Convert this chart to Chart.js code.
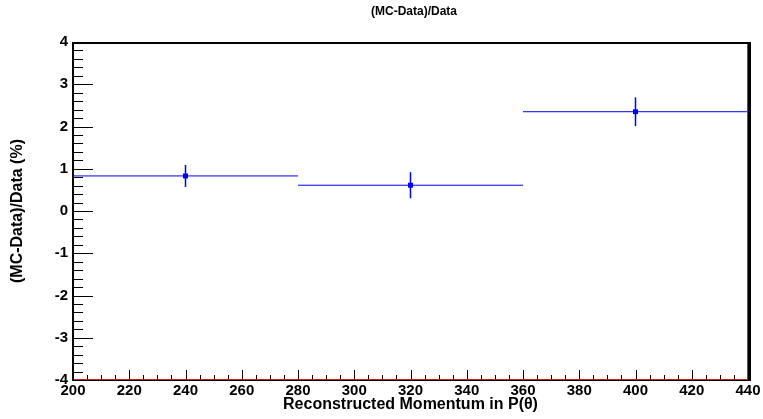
<!DOCTYPE html>
<html>
<head>
<meta charset="utf-8">
<script src="https://cdn.jsdelivr.net/npm/chart.js@4.4.1/dist/chart.umd.min.js"></script>
<style>
  html, body { margin: 0; padding: 0; background: #fff; }
</style>
</head>
<body>
<canvas id="ratioChart" width="763" height="419"></canvas>
<script>
// data
const binEdges = [200, 280, 360, 440];
const binCenters = [240, 320, 400];
const ratio = [0.83, 0.61, 2.35];
const ratioErr = [0.26, 0.31, 0.34];
const xTicks = [200, 220, 240, 260, 280, 300, 320, 340, 360, 380, 400, 420, 440];
const yTicks = [-4, -3, -2, -1, 0, 1, 2, 3, 4];

const FONT = '"Liberation Sans", Arial, Helvetica, sans-serif';
const BLUE = 'rgb(0,0,255)';

// build datasets: horizontal bin line, vertical error bar, marker
const datasets = [];
for (let i = 0; i < ratio.length; i++) {
  datasets.push({
    data: [{ x: binEdges[i], y: ratio[i] }, { x: binEdges[i + 1], y: ratio[i] }],
    showLine: true, borderColor: BLUE, borderWidth: 1, pointRadius: 0
  });
  datasets.push({
    data: [{ x: binCenters[i], y: ratio[i] - ratioErr[i] }, { x: binCenters[i], y: ratio[i] + ratioErr[i] }],
    showLine: true, borderColor: BLUE, borderWidth: 1.5, pointRadius: 0
  });
}
datasets.push({
  data: binCenters.map((c, i) => ({ x: c, y: ratio[i] })),
  pointStyle: 'rect', pointRadius: 3.5, backgroundColor: BLUE, borderColor: BLUE, borderWidth: 0
});

// ROOT-like frame, inward ticks and titles
const rootFrame = {
  id: 'rootFrame',
  afterDatasetsDraw(chart) {
    const { ctx, chartArea: a, scales: { x, y } } = chart;
    ctx.save();
    ctx.strokeStyle = '#000';
    ctx.lineWidth = 1;
    ctx.beginPath();
    for (let i = 0; i <= 40; i++) {
      const py = Math.round(y.getPixelForValue(-4 + i * 0.2)) + 0.5;
      const len = i % 5 === 0 ? 20 : 10;
      ctx.moveTo(a.left, py); ctx.lineTo(a.left + len, py);
    }
    for (let i = 0; i <= 48; i++) {
      const px = Math.round(x.getPixelForValue(200 + i * 5)) + 0.5;
      const len = i % 4 === 0 ? 10 : 5;
      ctx.moveTo(px, a.bottom); ctx.lineTo(px, a.bottom - len);
    }
    ctx.stroke();

    // frame
    ctx.fillStyle = '#000';
    ctx.fillRect(a.left - 1, a.top, a.right - a.left + 3, 2);   // top
    ctx.fillRect(a.right, a.top, 3, a.bottom - a.top + 1);      // right
    ctx.fillRect(a.left - 1, a.top, 2, a.bottom - a.top + 1);   // left axis
    ctx.fillRect(a.left - 1, a.bottom - 1, a.right - a.left + 2, 2); // bottom axis
    ctx.fillStyle = '#d02020';
    ctx.fillRect(a.left + 1, a.bottom - 1, a.right - a.left - 1, 1);
    ctx.fillRect(a.right - 1, a.top + 2, 1, a.bottom - a.top - 2);

    // titles
    ctx.fillStyle = '#000';
    ctx.textAlign = 'center';
    ctx.textBaseline = 'middle';
    ctx.font = 'bold 12px ' + FONT;
    ctx.fillText('(MC-Data)/Data', 414, 12);
    ctx.font = 'bold 16px ' + FONT;
    ctx.fillText('Reconstructed Momentum in P(\u03b8)', (a.left + a.right) / 2, 405);
    ctx.translate(18, (a.top + a.bottom) / 2);
    ctx.rotate(-Math.PI / 2);
    ctx.fillText('(MC-Data)/Data (%)', 0, 0);
    ctx.restore();
  }
};

new Chart(document.getElementById('ratioChart').getContext('2d'), {
  type: 'scatter',
  data: { datasets },
  options: {
    responsive: false,
    animation: false,
    layout: { padding: { left: 0, right: 15, top: 42, bottom: 0 } },
    plugins: { legend: { display: false }, tooltip: { enabled: false } },
    scales: {
      x: {
        type: 'linear', min: 200, max: 440,
        afterBuildTicks: s => { s.ticks = xTicks.map(v => ({ value: v })); },
        afterFit: s => { s.height = 39; },
        grid: { display: false, drawTicks: false },
        border: { display: false },
        ticks: {
          autoSkip: false, maxRotation: 0, padding: 2, color: '#000',
          font: { family: FONT, size: 15, weight: 'bold' }
        }
      },
      y: {
        type: 'linear', min: -4, max: 4,
        afterBuildTicks: s => { s.ticks = yTicks.map(v => ({ value: v })); },
        afterFit: s => { s.width = 73; },
        grid: { display: false, drawTicks: false },
        border: { display: false },
        ticks: {
          autoSkip: false, padding: 5, color: '#000',
          font: { family: FONT, size: 15, weight: 'bold' }
        }
      }
    }
  },
  plugins: [rootFrame]
});
</script>
</body>
</html>
